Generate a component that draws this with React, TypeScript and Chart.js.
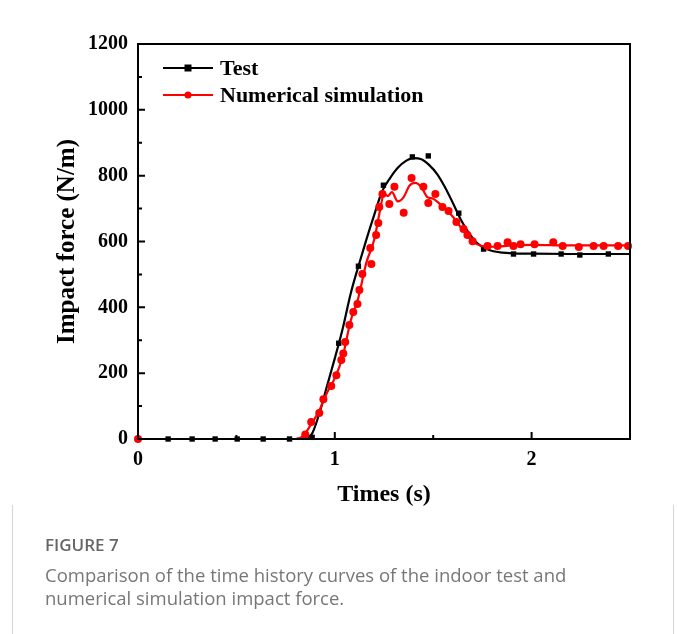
import React, { useEffect, useRef } from "react";
import { Chart, registerables } from "chart.js";

Chart.register(...registerables);

// Test: smooth fitted curve
const testLineT = [0, 0.8, 0.84, 0.88, 0.92, 0.96, 1.0, 1.04, 1.08, 1.12, 1.16, 1.2, 1.24, 1.28, 1.32, 1.36, 1.4, 1.44, 1.48, 1.52, 1.56, 1.6, 1.64, 1.68, 1.72, 1.76, 1.8, 1.85, 1.9, 2.0, 2.2, 2.5];
const testLineV = [0, 0, 2, 12, 75, 160, 245, 335, 440, 525, 605, 680, 752, 792, 824, 844, 853, 850, 832, 805, 765, 717, 667, 627, 597, 580, 571, 566, 564, 563, 562, 562];

// Test: measured points
const testPtT = [0, 0.153, 0.275, 0.392, 0.504, 0.636, 0.77, 0.885, 1.02, 1.12, 1.247, 1.394, 1.475, 1.63, 1.756, 1.908, 2.01, 2.15, 2.245, 2.39];
const testPtV = [0, 0, 0, 0, 0, 0, 0, 5, 291, 525, 771, 857, 860, 686, 577, 562, 562, 562, 559, 562];

// Numerical simulation: smooth curve
const simLineT = [0, 0.8, 0.84, 0.88, 0.92, 0.96, 1.0, 1.04, 1.08, 1.12, 1.16, 1.2, 1.23, 1.25, 1.27, 1.29, 1.32, 1.35, 1.38, 1.41, 1.44, 1.47, 1.5, 1.53, 1.56, 1.6, 1.65, 1.7, 1.75, 1.8, 1.9, 2.0, 2.2, 2.5];
const simLineV = [0, 0, 10, 45, 85, 140, 185, 250, 358, 430, 535, 605, 695, 745, 738, 750, 722, 735, 770, 778, 765, 735, 730, 716, 700, 675, 635, 600, 586, 584, 588, 590, 588, 588];

// Numerical simulation: points
const simPtT = [0, 0.85, 0.88, 0.921, 0.942, 0.982, 1.008, 1.033, 1.043, 1.053, 1.074, 1.094, 1.115, 1.125, 1.14, 1.18, 1.186, 1.21, 1.221, 1.226, 1.242, 1.277, 1.303, 1.35, 1.39, 1.45, 1.475, 1.511, 1.547, 1.578, 1.618, 1.654, 1.674, 1.7, 1.776, 1.827, 1.878, 1.908, 1.944, 2.015, 2.11, 2.158, 2.24, 2.315, 2.366, 2.44, 2.49];
const simPtV = [0, 14, 52, 79, 121, 161, 194, 240, 260, 295, 346, 386, 410, 453, 501, 580, 532, 620, 656, 705, 744, 714, 766, 687, 793, 766, 717, 744, 705, 693, 659, 638, 620, 601, 586, 586, 598, 586, 592, 592, 598, 586, 583, 586, 586, 586, 586];

const xTicks = [0, 1, 2];
const xMinorTicks = [0.5, 1.5];
const yTicks = [0, 200, 400, 600, 800, 1000, 1200];
const yMinorTicks = [100, 300, 500, 700, 900, 1100];

const legendLabels = ["Test", "Numerical simulation"];
const seriesColors = ["#000000", "#ff0000"];

const SERIF = "'Liberation Serif', 'Times New Roman', serif";

const zip = (t: number[], v: number[]) => t.map((x, i) => ({ x, y: v[i] }));

const framePlugin = {
  id: "frame",
  afterDatasetsDraw(chart: any) {
    const { ctx, chartArea: a, scales } = chart;
    const xs = scales.x;
    const ys = scales.y;
    ctx.save();
    ctx.strokeStyle = "#000";
    ctx.lineWidth = 2;
    ctx.strokeRect(a.left, a.top, a.right - a.left, a.bottom - a.top);
    ctx.lineWidth = 2;
    ctx.beginPath();
    yTicks.forEach((v) => {
      const y = ys.getPixelForValue(v);
      ctx.moveTo(a.left, y);
      ctx.lineTo(a.left + 7, y);
    });
    yMinorTicks.forEach((v) => {
      const y = ys.getPixelForValue(v);
      ctx.moveTo(a.left, y);
      ctx.lineTo(a.left + 4, y);
    });
    xTicks.forEach((v) => {
      const x = xs.getPixelForValue(v);
      ctx.moveTo(x, a.bottom);
      ctx.lineTo(x, a.bottom - 7);
    });
    xMinorTicks.forEach((v) => {
      const x = xs.getPixelForValue(v);
      ctx.moveTo(x, a.bottom);
      ctx.lineTo(x, a.bottom - 4);
    });
    ctx.stroke();

    // legend
    const rowsY = [a.top + 24, a.top + 51];
    legendLabels.forEach((lab, i) => {
      const y = rowsY[i];
      const x0 = a.left + 25;
      const x1 = a.left + 75;
      ctx.strokeStyle = seriesColors[i];
      ctx.lineWidth = 2;
      ctx.beginPath();
      ctx.moveTo(x0, y);
      ctx.lineTo(x1, y);
      ctx.stroke();
      ctx.fillStyle = seriesColors[i];
      const cx = (x0 + x1) / 2;
      if (i === 0) {
        ctx.fillRect(cx - 3.5, y - 3.5, 7, 7);
      } else {
        ctx.beginPath();
        ctx.arc(cx, y, 3.5, 0, Math.PI * 2);
        ctx.fill();
      }
      ctx.fillStyle = "#000";
      ctx.font = `bold 22px ${SERIF}`;
      ctx.textBaseline = "middle";
      ctx.textAlign = "left";
      ctx.fillText(lab, x1 + 7, y + 1);
    });
    ctx.restore();
  },
};

export default function App() {
  const ref = useRef<HTMLCanvasElement | null>(null);

  useEffect(() => {
    if (!ref.current) return;
    const chart = new Chart(ref.current, {
      type: "scatter",
      data: {
        datasets: [
          {
            label: "Numerical simulation line",
            data: zip(simLineT, simLineV),
            showLine: true,
            borderColor: seriesColors[1],
            borderWidth: 2.2,
            pointRadius: 0,
            cubicInterpolationMode: "monotone",
            order: 0,
          } as any,
          {
            label: "Numerical simulation",
            data: zip(simPtT, simPtV),
            showLine: false,
            backgroundColor: seriesColors[1],
            borderColor: seriesColors[1],
            borderWidth: 0,
            pointRadius: 4,
            pointStyle: "circle",
            order: 0,
            clip: false,
          } as any,
          {
            label: "Test line",
            data: zip(testLineT, testLineV),
            showLine: true,
            borderColor: seriesColors[0],
            borderWidth: 2.2,
            pointRadius: 0,
            cubicInterpolationMode: "monotone",
            order: 1,
          } as any,
          {
            label: "Test",
            data: zip(testPtT, testPtV),
            showLine: false,
            backgroundColor: seriesColors[0],
            borderColor: seriesColors[0],
            borderWidth: 0,
            pointRadius: 3.8,
            pointStyle: "rect",
            order: 1,
            clip: false,
          } as any,
        ],
      },
      options: {
        animation: false,
        responsive: false,
        devicePixelRatio: 1,
        layout: { padding: { left: 0, right: 47, top: 44, bottom: 0 } },
        plugins: { legend: { display: false }, tooltip: { enabled: false } },
        scales: {
          x: {
            type: "linear",
            min: 0,
            max: 2.5,
            afterBuildTicks: (s: any) => {
              s.ticks = xTicks.map((v) => ({ value: v }));
            },
            afterFit: (s: any) => {
              s.height = 81;
            },
            grid: { display: false, drawTicks: false },
            border: { display: false },
            ticks: {
              padding: 9,
              color: "#000",
              font: { family: SERIF, size: 20, weight: "bold" },
              callback: (v: any) => String(v),
            },
            title: {
              display: true,
              text: "Times (s)",
              color: "#000",
              font: { family: SERIF, size: 24, weight: "bold" },
              padding: { top: 0, bottom: 11 },
            },
          },
          y: {
            type: "linear",
            min: 0,
            max: 1200,
            afterBuildTicks: (s: any) => {
              s.ticks = yTicks.map((v) => ({ value: v }));
            },
            afterFit: (s: any) => {
              s.width = 138;
            },
            grid: { display: false, drawTicks: false },
            border: { display: false },
            ticks: {
              padding: 10,
              color: "#000",
              font: { family: SERIF, size: 20, weight: "bold" },
              callback: (v: any) => String(v),
            },
            title: {
              display: true,
              text: "Impact force (N/m)",
              color: "#000",
              font: { family: SERIF, size: 25, weight: "bold" },
              padding: { top: 53, bottom: 0 },
            },
          },
        },
      },
      plugins: [framePlugin],
    } as any);
    return () => chart.destroy();
  }, []);

  return (
    <div style={{ position: "absolute", left: 0, top: 0, width: 677, height: 634, background: "#fff", overflow: "hidden" }}>
      <canvas ref={ref} width={677} height={520} style={{ position: "absolute", left: 0, top: 0, width: 677, height: 520 }} />
      <div style={{ position: "absolute", left: 12, top: 505, width: 660, height: 140, borderLeft: "1px solid #d6d6d6", borderRight: "1px solid #d6d6d6" }} />
      <div style={{ position: "absolute", left: 45, top: 533, fontFamily: "'Open Sans', 'Noto Sans', sans-serif", lineHeight: "23px" }}>
        <div style={{ color: "#666", fontWeight: 600, fontSize: 17, marginBottom: 7 }}>FIGURE 7</div>
        <div style={{ color: "#777", fontWeight: 400, fontSize: 18.5 }}>
          Comparison of the time history curves of the indoor test and
          <br />
          numerical simulation impact force.
        </div>
      </div>
    </div>
  );
}
